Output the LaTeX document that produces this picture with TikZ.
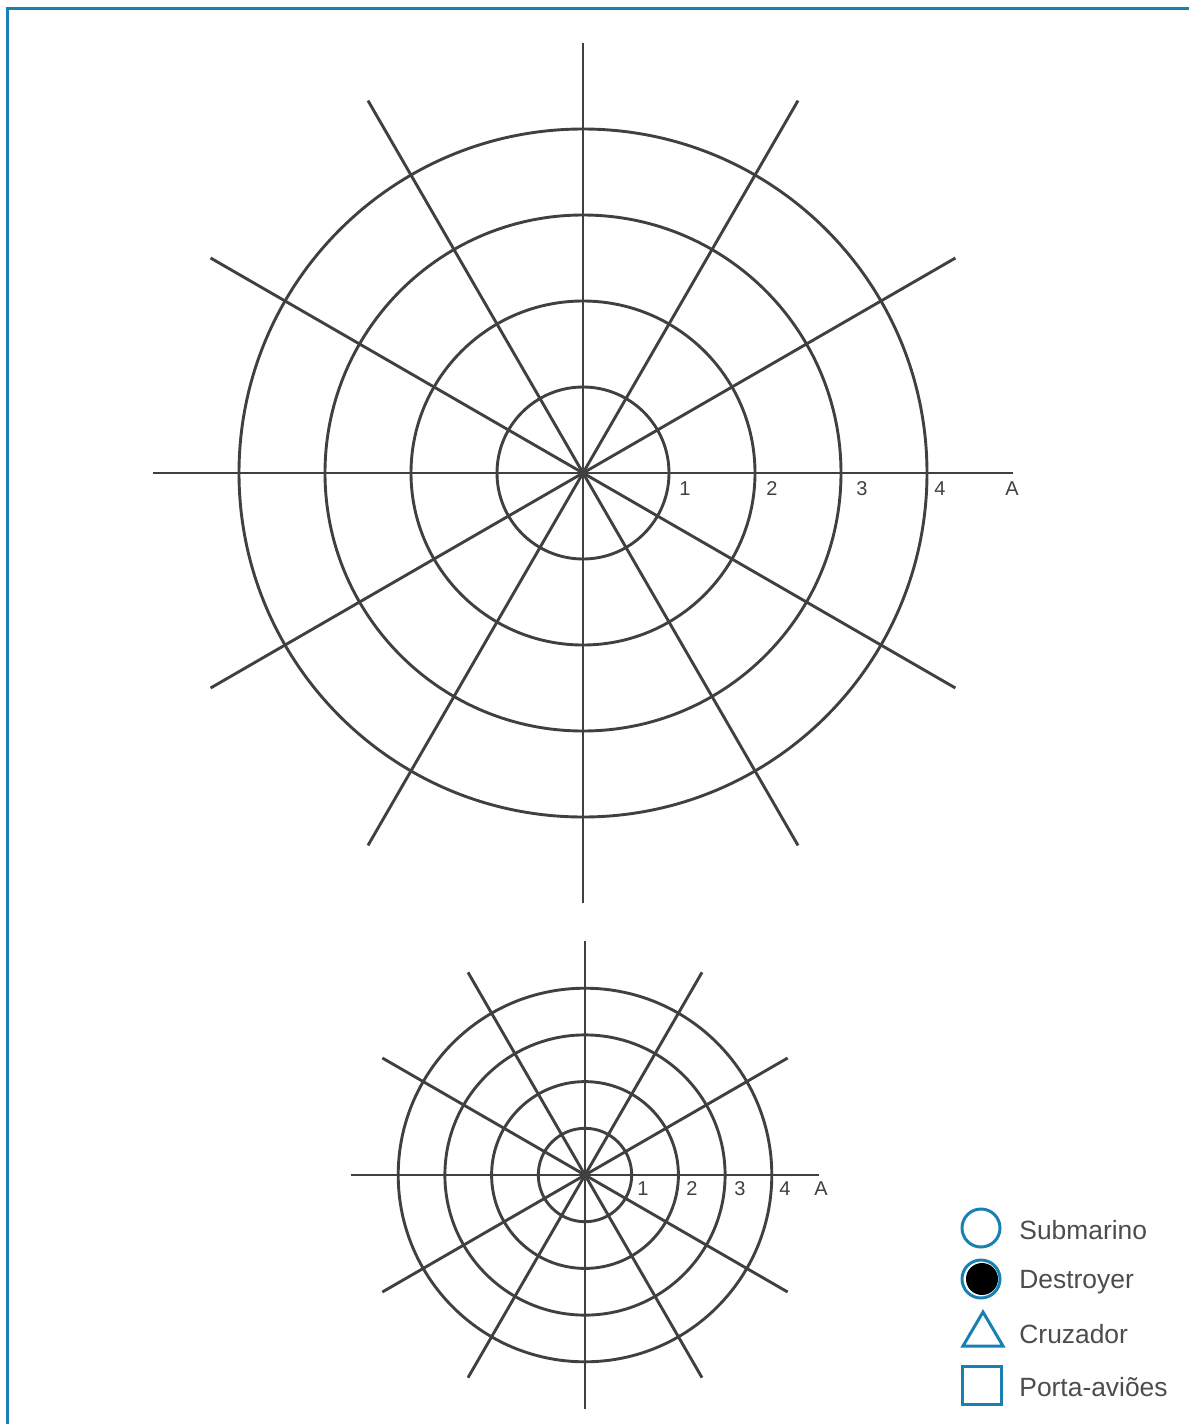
\documentclass[tikz,border=0pt]{standalone}
\usepackage{fontspec}
\setmainfont{Liberation Sans}
\usetikzlibrary{calc}
\usetikzlibrary{positioning}
\usetikzlibrary{shapes.geometric}
\definecolor{gridgray}{rgb}{0.25,0.25,0.25}
\definecolor{frameblue}{rgb}{0.1,0.5,0.7}
\definecolor{textgray}{rgb}{0.3,0.3,0.3}

\begin{document}
\begin{tikzpicture}[x=0.5pt, y=-0.5pt,
		grid/.style = {line width=1.45pt, draw=gridgray},
		lbl/.style = {font=\fontsize{10}{11}\selectfont, text=gridgray, inner sep=0pt},
		sym/.style = {line width=1.5pt, draw=frameblue},
		key/.style = {anchor=west, font=\fontsize{13.2}{15}\selectfont, text=textgray, inner sep=0pt},
		]
		\useasboundingbox (0,0) rectangle (1189,1424);
		\draw[frameblue, line width=1.5pt]	(7,1424) -- (7,8) -- (1189,8);
		
		% big target
		\coordinate (bigc) at (583,473);
		\foreach \r in {1,...,4}
			\draw[grid]	(bigc) circle[radius=86*\r];
		\foreach \a in {0,30,...,150}
			\draw[grid]	([shift={(\a:430)}]bigc) -- ([shift={(\a+180:430)}]bigc);
		\node[lbl] (big1) at (685,489) {1};
		\node[lbl] (big2) at (772,489) {2};
		\node[lbl] (big3) at (862,489) {3};
		\node[lbl] (big4) at (940,489) {4};
		\node[lbl] (bigA) at (1012,489) {A};
		
		% small target
		\coordinate (smc) at (585,1175);
		\foreach \r in {1,...,4}
			\draw[grid]	(smc) circle[radius=46.7*\r];
		\foreach \a in {0,30,...,150}
			\draw[grid]	([shift={(\a:234)}]smc) -- ([shift={(\a+180:234)}]smc);
		\node[lbl] (sm1) at (643,1189) {1};
		\node[lbl] (sm2) at (692,1189) {2};
		\node[lbl] (sm3) at (740,1189) {3};
		\node[lbl] (sm4) at (785,1189) {4};
		\node[lbl] (smA) at (821,1189) {A};
		
		% legend
		\draw[sym]	(981,1228) circle[radius=19];
		\draw[sym]	(981,1279) circle[radius=19];
		\fill[black]	(982,1279) circle[radius=16];
		\draw[sym, line join=miter]	(983,1312) -- (1003,1346) -- (963,1346) -- cycle;
		\draw[sym]	(962,1366) rectangle (1001,1404);
		\node[key] (subm) at (1019,1230) {Submarino};
		\node[key] (dest) at (1019,1282) {Destroyer};
		\node[key] (cruz) at (1019,1334) {Cruzador};
		\node[key] (port) at (1019,1387) {Porta-aviões};
	\end{tikzpicture}
\end{document}
